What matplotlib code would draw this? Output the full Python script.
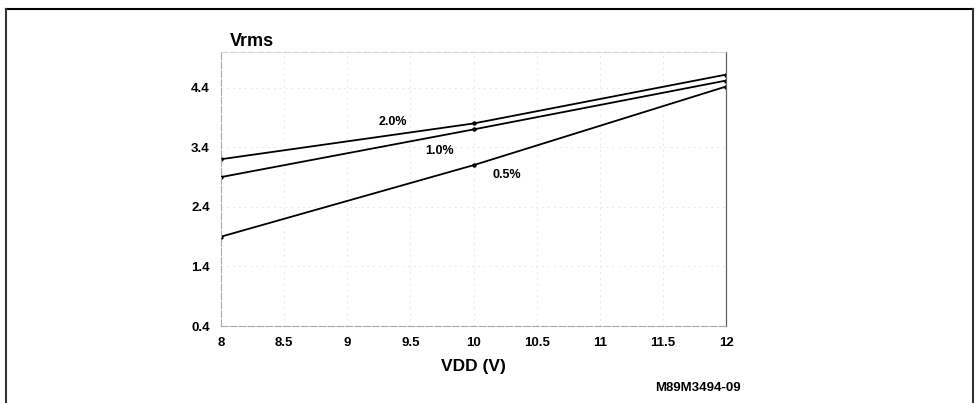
import matplotlib
matplotlib.use('Agg')
import matplotlib.pyplot as plt
from matplotlib.lines import Line2D

plt.rcParams['font.family'] = ['Liberation Sans', 'DejaVu Sans']

vdd = [8, 10, 12]
series = ['2.0%', '1.0%', '0.5%']
vrms_20 = [3.2, 3.8, 4.62]
vrms_10 = [2.9, 3.7, 4.52]
vrms_05 = [1.9, 3.1, 4.42]
label_pos = [(9.36, 3.83), (9.73, 3.33), (10.26, 2.93)]
xticks = [8, 8.5, 9, 9.5, 10, 10.5, 11, 11.5, 12]
yticks = [0.4, 1.4, 2.4, 3.4, 4.4]

fig = plt.figure(figsize=(9.77, 4.03), dpi=100)
ax = fig.add_axes([0.2262, 0.191, 0.5169, 0.680])

for vals in (vrms_20, vrms_10, vrms_05):
    ax.plot(vdd, vals, color='black', lw=1.3, marker='o', ms=2.2)

for name, (lx, ly) in zip(series, label_pos):
    ax.text(lx, ly, name, fontsize=9, fontweight='bold', ha='center', va='center')

ax.set_xlim(8, 12)
ax.set_ylim(0.4, 5.0)
ax.set_xticks(xticks)
ax.set_xticklabels([f'{t:g}' for t in xticks], fontsize=9.5, fontweight='bold')
ax.set_yticks(yticks)
ax.set_yticklabels([f'{t:g}' for t in yticks], fontsize=9.5, fontweight='bold')
ax.tick_params(length=0, pad=8)
ax.grid(True, color='#e2e2e2', ls=(0, (2, 5)), lw=0.6)
for side in ('left', 'bottom', 'top'):
    ax.spines[side].set_color('#a8a8a8')
    ax.spines[side].set_linestyle((0, (6, 2)))
    ax.spines[side].set_linewidth(0.8)
ax.spines['top'].set_color('#d4d4d4')
ax.spines['right'].set_color('#606060')
ax.spines['right'].set_linewidth(0.9)

ax.set_xlabel('VDD (V)', fontsize=12.5, fontweight='bold', labelpad=7)
ax.text(0.018, 1.04, 'Vrms', transform=ax.transAxes, fontsize=13, fontweight='bold',
        ha='left', va='center')
fig.text(698 / 977, 1 - 388 / 403, 'M89M3494-09', fontsize=9.5, fontweight='bold',
         ha='center', va='center')

# page frame
fx0, fx1, fy1 = 6 / 977, 973 / 977, 1 - 9 / 403
fig.add_artist(Line2D([fx0, fx1], [fy1, fy1], color='black', lw=1.5, transform=fig.transFigure))
fig.add_artist(Line2D([fx0, fx0], [0, fy1], color='#333333', lw=1.5, transform=fig.transFigure))
fig.add_artist(Line2D([fx1, fx1], [0, fy1], color='#333333', lw=1.5, transform=fig.transFigure))

fig.savefig('out.png', dpi=100)
